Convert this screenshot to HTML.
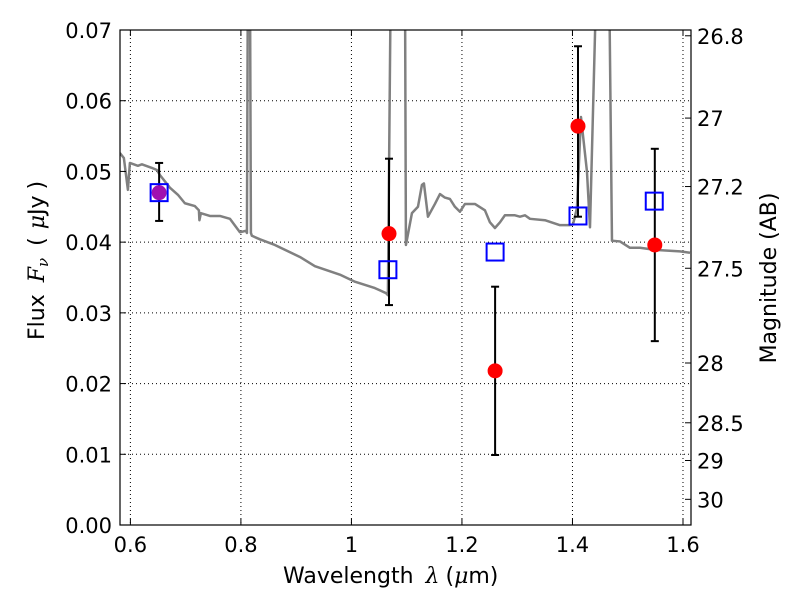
<!DOCTYPE html>
<html><head><meta charset="utf-8"><style>
body{margin:0;background:#fff;width:800px;height:600px;overflow:hidden}
svg{font-family:"DejaVu Sans","Liberation Sans",sans-serif}
</style></head><body>
<svg id="chart" width="800" height="600" viewBox="0 0 800 600" xmlns="http://www.w3.org/2000/svg"></svg>
<script>
const xTicks=[0.6,0.8,1.0,1.2,1.4,1.6];
const xTickLabels=["0.6","0.8","1","1.2","1.4","1.6"];
const yTicks=[0,0.01,0.02,0.03,0.04,0.05,0.06,0.07];
const yTickLabels=["0.00","0.01","0.02","0.03","0.04","0.05","0.06","0.07"];
const magTicks=[26.8,27,27.2,27.5,28,28.5,29,30];
const magTickLabels=["26.8","27","27.2","27.5","28","28.5","29","30"];
const specWl=[0.581,0.5882,0.5955,0.5991,0.6136,0.6208,0.6389,0.648,0.6534,0.6715,0.686,0.6986,0.7167,0.7240,0.7249,0.7276,0.7439,0.762,0.7801,0.7982,0.809,0.8109,0.8127,0.8163,0.8181,0.8199,0.8344,0.8615,0.9068,0.9339,0.9792,1.0063,1.0425,1.0624,1.0660,1.0715,1.0968,1.0986,1.1095,1.1204,1.1276,1.1312,1.1385,1.1511,1.1602,1.1692,1.1783,1.1873,1.1964,1.2054,1.2235,1.2416,1.2507,1.2597,1.2688,1.2778,1.2959,1.305,1.314,1.3231,1.3502,1.3774,1.3955,1.4009,1.4081,1.4154,1.4262,1.4317,1.4443,1.466,1.4715,1.486,1.504,1.5222,1.5493,1.5946,1.6127];
const specFlux=[0.0526,0.0519,0.0474,0.0512,0.0508,0.0510,0.0505,0.0502,0.0495,0.0477,0.0467,0.0455,0.0451,0.0445,0.0431,0.0441,0.0437,0.0437,0.0433,0.0414,0.0416,0.0413,0.0800,0.0800,0.0413,0.0409,0.0404,0.0396,0.0379,0.0366,0.0354,0.0344,0.0335,0.0328,0.0325,0.0800,0.0800,0.0396,0.0441,0.0450,0.0481,0.0483,0.0436,0.0454,0.0468,0.0463,0.0461,0.0450,0.0443,0.0454,0.0454,0.0445,0.0428,0.0420,0.0428,0.0438,0.0438,0.0436,0.0438,0.0433,0.0431,0.0424,0.0424,0.0425,0.0448,0.0577,0.0500,0.0421,0.0800,0.0800,0.0402,0.0401,0.0392,0.0392,0.0389,0.0387,0.0385];
const obsWl=[0.652,1.068,1.260,1.410,1.549];
const obsFlux=[0.0470,0.0412,0.0218,0.0564,0.0396];
const obsErrLo=[0.0430,0.0311,0.0099,0.0436,0.0260];
const obsErrHi=[0.0512,0.0518,0.0337,0.0677,0.0532];
const modelWl=[0.652,1.066,1.260,1.410,1.548];
const modelFlux=[0.0470,0.0361,0.0386,0.0437,0.0458];

const L=120,R=691,T=30,B=525,X0=0.5812,X1=1.6145,Y0=0,Y1=0.07;
const sx=v=>L+(v-X0)/(X1-X0)*(R-L);
const sy=v=>B-(v-Y0)/(Y1-Y0)*(B-T);
const magY=m=>sy(Math.pow(10,(23.9-m)/2.5));
const svg=document.getElementById('chart');
const NS='http://www.w3.org/2000/svg';
function mk(tag,attrs,parent){const e=document.createElementNS(NS,tag);for(const k in attrs)e.setAttribute(k,attrs[k]);(parent||svg).appendChild(e);return e;}

const defs=mk('defs',{});
const cp=mk('clipPath',{id:'clip'},defs);
mk('rect',{x:L,y:T,width:R-L,height:B-T},cp);

const grid=mk('g',{});


xTicks.forEach(v=>mk('line',{x1:sx(v),x2:sx(v),y1:T,y2:B,stroke:'#000','stroke-width':1,'stroke-dasharray':'1,3'},grid));
yTicks.forEach(v=>mk('line',{x1:L,x2:R,y1:sy(v),y2:sy(v),stroke:'#000','stroke-width':1,'stroke-dasharray':'1,3'},grid));

const spec=mk('polyline',{points:specWl.map((w,i)=>sx(w)+','+sy(specFlux[i])).join(' '),fill:'none',stroke:'#808080','stroke-width':2.5,'stroke-linejoin':'round','clip-path':'url(#clip)'});



obsWl.forEach((w,i)=>{
  const g=mk('g',{});
  
  
  const x=sx(w);
  mk('line',{x1:x,x2:x,y1:sy(obsErrLo[i]),y2:sy(obsErrHi[i]),stroke:'#000','stroke-width':2},g);
  mk('line',{x1:x-4,x2:x+4,y1:sy(obsErrLo[i]),y2:sy(obsErrLo[i]),stroke:'#000','stroke-width':2},g);
  mk('line',{x1:x-4,x2:x+4,y1:sy(obsErrHi[i]),y2:sy(obsErrHi[i]),stroke:'#000','stroke-width':2},g);
  const c=mk('circle',{cx:x,cy:sy(obsFlux[i]),r:7.5,fill:i===0?'#a010b0':'#ff0000'});
  
  
});
modelWl.forEach((w,i)=>{
  const r=mk('rect',{x:sx(w)-8.5,y:sy(modelFlux[i])-8.5,width:17,height:17,fill:'none',stroke:'#0000ff','stroke-width':2});
  
  
});

const frame=mk('rect',{x:L,y:T,width:R-L,height:B-T,fill:'none',stroke:'#000','stroke-width':1.2});



const xa=mk('g',{'font-size':21,'text-anchor':'middle'});


xTicks.forEach((v,i)=>{const x=sx(v);
  mk('line',{x1:x,x2:x,y1:B,y2:B-6,stroke:'#000'},xa);mk('line',{x1:x,x2:x,y1:T,y2:T+6,stroke:'#000'},xa);
  const t=mk('text',{x:x,y:552},xa);t.textContent=xTickLabels[i];});
const ya=mk('g',{'font-size':21,'text-anchor':'end'});


yTicks.forEach((v,i)=>{const y=sy(v);
  mk('line',{x1:L,x2:L+6,y1:y,y2:y,stroke:'#000'},ya);
  const t=mk('text',{x:112,y:y+8},ya);t.textContent=yTickLabels[i];});
const ma=mk('g',{'font-size':21,'text-anchor':'start'});


magTicks.forEach((m,i)=>{const y=magY(m);
  mk('line',{x1:R,x2:R-6,y1:y,y2:y,stroke:'#000'},ma);
  const t=mk('text',{x:697,y:y+8},ma);t.textContent=magTickLabels[i];});

const xl=mk('text',{x:283,y:583,'font-size':22,'text-anchor':'start'});


xl.innerHTML='Wavelength<tspan dx="12" font-style="italic" font-family="DejaVu Serif, serif">λ</tspan><tspan dx="6">(</tspan><tspan font-style="italic" font-family="DejaVu Serif, serif">μ</tspan>m)';
const yl=mk('text',{x:0,y:0,'font-size':22,'text-anchor':'start',transform:'translate(44,340) rotate(-90)'});


yl.innerHTML='Flux<tspan dx="12" font-style="italic" font-family="DejaVu Serif, serif">F</tspan><tspan font-style="italic" font-family="DejaVu Serif, serif" font-size="15" dy="4">ν</tspan><tspan dy="-4" dx="12">(</tspan><tspan dx="8" font-style="italic" font-family="DejaVu Serif, serif">μ</tspan>Jy<tspan dx="6">)</tspan>';
const ml=mk('text',{x:0,y:0,'font-size':22,'text-anchor':'middle',transform:'translate(776,278) rotate(-90)'});


ml.textContent='Magnitude (AB)';
</script>
</body></html>
